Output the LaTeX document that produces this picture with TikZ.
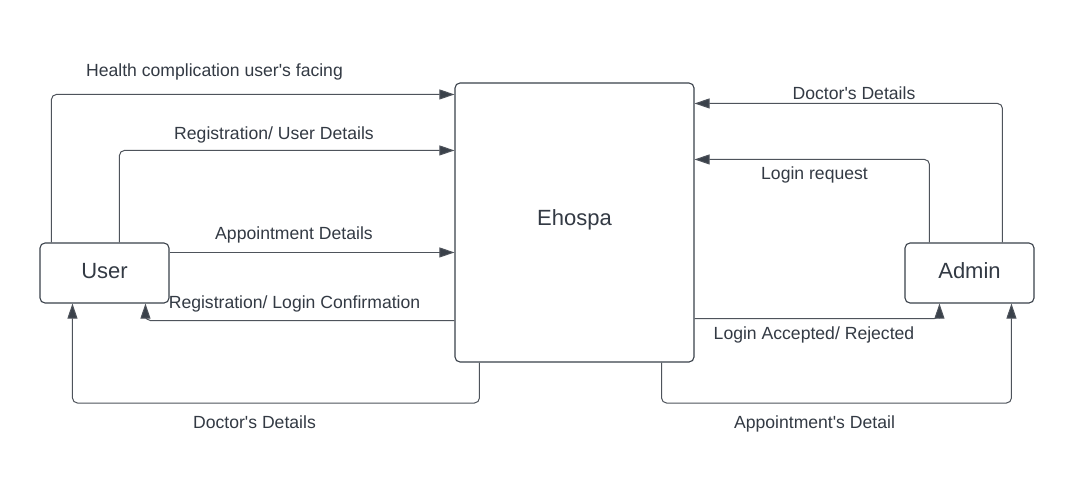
\documentclass[tikz,border=0pt]{standalone}
\usepackage{fontspec}
\setmainfont{Liberation Sans}
\usetikzlibrary{arrows.meta}
\definecolor{ink}{HTML}{3A414A}
\definecolor{wire}{HTML}{4E535B}
\definecolor{txt}{HTML}{333A44}
\newcommand{\apos}{\textquotesingle}
\tikzset{
  box/.style={draw=ink, line width=1.1pt, rounded corners=5pt, fill=white, text=txt,
    font=\fontsize{22}{26}\selectfont, inner sep=0pt},
  flow/.style={draw=wire, line width=1pt, rounded corners=5pt,
    -{Triangle[length=15pt,width=10pt,fill=ink]}},
  lbl/.style={text=txt, font=\fontsize{17.6}{21}\selectfont, anchor=mid, inner sep=0pt},
  boxtext/.style={text=txt, font=\fontsize{22}{26}\selectfont, anchor=mid, inner sep=0pt}
}
\begin{document}
\begin{tikzpicture}[x=1pt,y=-1pt]
\useasboundingbox (0,0) rectangle (1075,496);
\fill[white] (0,0) rectangle (1075,496);

\node[box, minimum width=129pt, minimum height=60pt] (User) at (104.5,273) {};
\node[boxtext] (UserText) at (104.5,276) {User};
\node[box, minimum width=239pt, minimum height=279pt] (Ehospa) at (574.5,222.5) {};
\node[boxtext] (EhospaText) at (574.5,223) {Ehospa};
\node[box, minimum width=129pt, minimum height=60pt] (Admin) at (969.5,273) {};
\node[boxtext] (AdminText) at (969.5,276) {Admin};

% left side
\draw[flow] ([xshift=12pt]User.north west) |- ([yshift=-12pt]Ehospa.north west);
\draw[flow] ([xshift=80pt]User.north west) |- ([yshift=-68pt]Ehospa.north west);
\draw[flow] ([yshift=-10pt]User.north east) coordinate (a3) -- (a3 -| Ehospa.west);
\draw[flow] ([yshift=42pt]Ehospa.south west) -| ([xshift=106pt]User.south west);
\draw[flow] ([xshift=25pt]Ehospa.south west) coordinate (b5) -- (b5 |- 0,403) -| ([xshift=33pt]User.south west);

% right side
\draw[flow] ([xshift=98pt]Admin.north west) |- ([yshift=-21pt]Ehospa.north east);
\draw[flow] ([xshift=25pt]Admin.north west) |- ([yshift=-77pt]Ehospa.north east);
\draw[flow] ([yshift=44pt]Ehospa.south east) -| ([xshift=35pt]Admin.south west);
\draw[flow] ([xshift=-33pt]Ehospa.south east) coordinate (b9) -- (b9 |- 0,403) -| ([xshift=107pt]Admin.south west);

% labels
\node[lbl] (l1) at (214.5,74) {Health complication user\apos s facing};
\node[lbl] (l2) at (274,137) {Registration/ User Details};
\node[lbl] (l3) at (294,237) {Appointment Details};
\node[lbl] (l4) at (294.5,306) {Registration/ Login Confirmation};
\node[lbl] (l5) at (254.5,426) {Doctor\apos s Details};
\node[lbl] (l6) at (854,97) {Doctor\apos s Details};
\node[lbl] (l7) at (814.5,177) {Login request};
\node[lbl] (l8) at (814,337) {Login Accepted/ Rejected};
\node[lbl] (l9) at (814.5,426) {Appointment\apos s Detail};
\end{tikzpicture}
\end{document}
